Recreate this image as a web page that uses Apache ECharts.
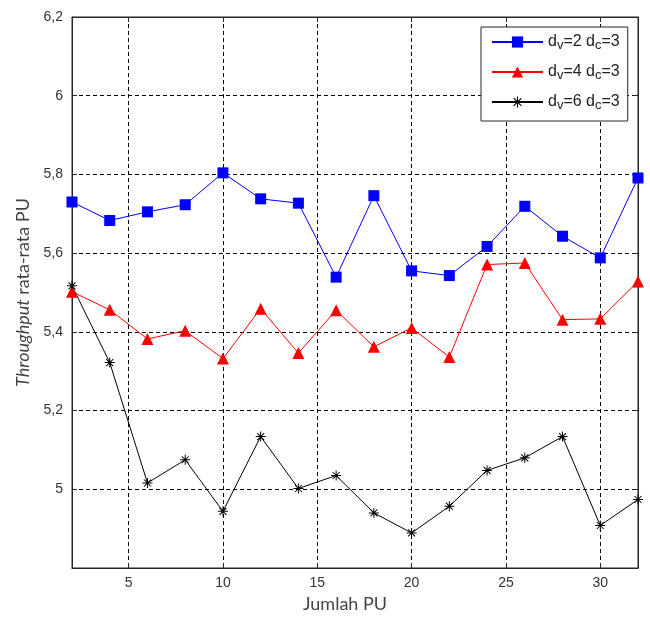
<!DOCTYPE html>
<html>
<head>
<meta charset="utf-8">
<script src="https://cdn.jsdelivr.net/npm/echarts@6/dist/echarts.min.js"></script>
<style>
  html, body { margin: 0; padding: 0; background: #fff; }
  #chart { width: 650px; height: 619px; }
</style>
</head>
<body>
<div id="chart"></div>
<script>
// Number of primary users on the horizontal axis
const jumlahPU = [2, 4, 6, 8, 10, 12, 14, 16, 18, 20, 22, 24, 26, 28, 30, 32];

// Average PU throughput for each degree combination
const tpDv2 = [5.730, 5.683, 5.705, 5.723, 5.804, 5.738, 5.727, 5.539, 5.746, 5.555, 5.543, 5.617, 5.719, 5.643, 5.588, 5.791];
const tpDv4 = [5.502, 5.456, 5.382, 5.403, 5.332, 5.459, 5.346, 5.455, 5.362, 5.410, 5.336, 5.571, 5.575, 5.431, 5.433, 5.528];
const tpDv6 = [5.517, 5.322, 5.016, 5.075, 4.944, 5.134, 5.002, 5.035, 4.940, 4.889, 4.957, 5.048, 5.080, 5.134, 4.908, 4.974];

const seriesNames = ['dv=2 dc=3', 'dv=4 dc=3', 'dv=6 dc=3'];

// Tick positions
const xTicks = [5, 10, 15, 20, 25, 30];
const yMin = 4.8, yMax = 6.2, yStep = 0.2;

const pair = (ys) => jumlahPU.map((x, i) => [x, ys[i]]);

// Asterisk marker built from four thin bars
const asterisk = 'path://M-0.5,-5L0.5,-5L0.5,5L-0.5,5Z' +
  'M-5,-0.5L5,-0.5L5,0.5L-5,0.5Z' +
  'M-3.85,-3.15L-3.15,-3.85L3.85,3.15L3.15,3.85Z' +
  'M3.15,-3.85L3.85,-3.15L-3.15,3.85L-3.85,3.15Z';

const axisColor = '#262626';
const gridLine = { show: true, lineStyle: { color: '#000', type: [4, 3], width: 1 } };

const chart = echarts.init(document.getElementById('chart'), null, { renderer: 'canvas' });

chart.setOption({
  backgroundColor: '#fff',
  animation: false,
  grid: { left: 72, top: 17, right: 12, bottom: 51, show: true, borderColor: axisColor, borderWidth: 1 },
  legend: {
    orient: 'vertical',
    left: 481, top: 27,
    padding: [7, 8, 9, 10],
    itemWidth: 51, itemHeight: 14, itemGap: 12,
    backgroundColor: '#fff',
    borderColor: axisColor, borderWidth: 1,
    data: seriesNames,
    formatter: (name) => name.replace(/d([vc])=(\d)/g, '{t|d}{s|$1}{t|=$2}').replace(' ', '{t| }'),
    textStyle: {
      rich: {
        t: { fontFamily: 'Liberation Sans', fontSize: 16, color: '#222', lineHeight: 20, verticalAlign: 'middle' },
        s: { fontFamily: 'Liberation Sans', fontSize: 13, color: '#222', lineHeight: 13, verticalAlign: 'bottom' }
      }
    }
  },
  xAxis: [{
    type: 'value', min: 2, max: 32,
    name: 'Jumlah PU', nameLocation: 'middle', nameGap: 25,
    nameTextStyle: { fontFamily: 'Lato', fontSize: 18, color: '#444', padding: [0, 20, 0, 0] },
    axisLine: { lineStyle: { color: axisColor } },
    axisTick: { inside: true, length: 5, customValues: xTicks, lineStyle: { color: axisColor } },
    axisLabel: { customValues: xTicks, fontFamily: 'Liberation Sans', fontSize: 14, color: '#333', margin: 8 },
    splitLine: gridLine
  }, {
    type: 'value', min: 2, max: 32, position: 'top',
    axisLine: { lineStyle: { color: axisColor } },
    axisTick: { inside: true, length: 5, customValues: xTicks, lineStyle: { color: axisColor } },
    axisLabel: { show: false },
    splitLine: { show: false }
  }],
  yAxis: [{
    type: 'value', min: yMin, max: yMax, interval: yStep,
    name: '{i|Throughput} rata-rata PU', nameLocation: 'middle', nameGap: 36,
    nameTextStyle: {
      fontFamily: 'Lato', fontSize: 18, color: '#444',
      rich: { i: { fontFamily: 'Lato', fontSize: 18, fontStyle: 'italic', color: '#444' } }
    },
    axisLine: { show: true, lineStyle: { color: axisColor } },
    axisTick: { show: true, inside: true, length: 5, lineStyle: { color: axisColor } },
    axisLabel: {
      fontFamily: 'Liberation Sans', fontSize: 14, color: '#333', margin: 9,
      formatter: (v) => {
        const r = Math.round(v * 10) / 10;
        if (Math.abs(r - yMin) < 1e-6) return '';
        return String(r).replace('.', ',');
      }
    },
    splitLine: gridLine
  }, {
    type: 'value', min: yMin, max: yMax, interval: yStep, position: 'right',
    axisLine: { show: true, lineStyle: { color: axisColor } },
    axisTick: { show: true, inside: true, length: 5, lineStyle: { color: axisColor } },
    axisLabel: { show: false },
    splitLine: { show: false }
  }],
  series: [{
    name: seriesNames[0], type: 'line', data: pair(tpDv2), clip: false,
    symbol: 'rect', symbolSize: 11,
    lineStyle: { color: '#0000ff', width: 1 },
    itemStyle: { color: '#0000ff' }
  }, {
    name: seriesNames[1], type: 'line', data: pair(tpDv4), clip: false,
    symbol: 'triangle', symbolSize: 12,
    lineStyle: { color: '#ff0000', width: 1 },
    itemStyle: { color: '#ff0000' }
  }, {
    name: seriesNames[2], type: 'line', data: pair(tpDv6), clip: false,
    symbol: asterisk, symbolSize: 10,
    lineStyle: { color: '#000', width: 1 },
    itemStyle: { color: '#000' }
  }]
});
</script>
</body>
</html>
